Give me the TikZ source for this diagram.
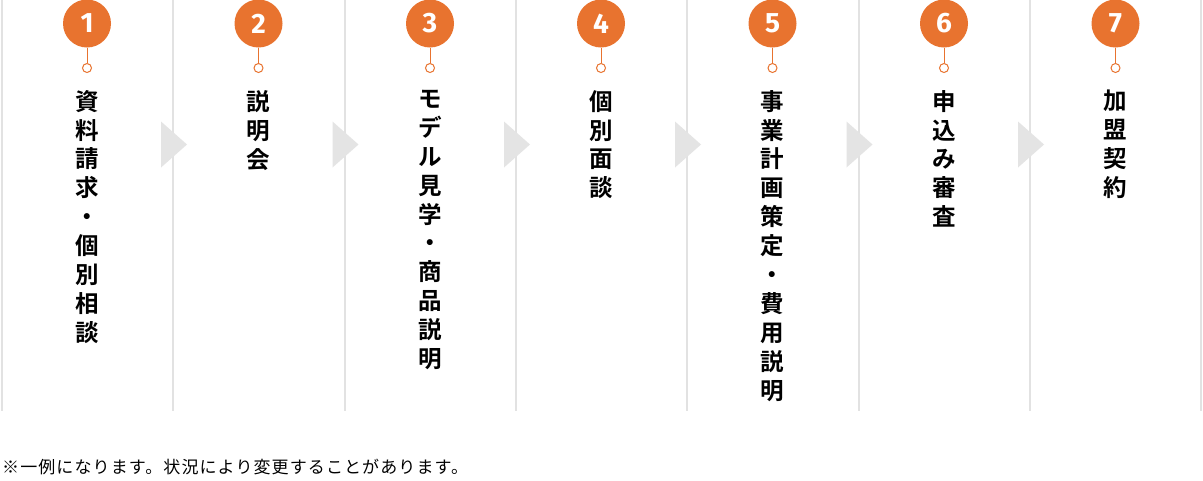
\documentclass[tikz,border=0pt]{standalone}
\usepackage{fontspec}
\newfontfamily\jp{Noto Sans CJK JP}[LetterSpace=6.5]
\newfontfamily\jpb{Noto Sans CJK JP Bold}
\newfontfamily\numf{Fira Sans}[BoldFont={Fira Sans Bold}]
\definecolor{orangec}{HTML}{E8732F}
\definecolor{sepc}{HTML}{E2E2E2}
\definecolor{tric}{HTML}{E4E4E4}
\begin{document}
\begin{tikzpicture}[x=1pt,y=-1pt,
  sepline/.style={draw=sepc,line width=2pt},
  numcirc/.style={circle,fill=orangec,minimum size=48pt,inner sep=0pt,text=white,font=\numf\bfseries\fontsize{28}{28}\selectfont},
  smallcirc/.style={circle,draw=orangec,fill=white,line width=1pt,minimum size=9pt,inner sep=0pt},
  stem/.style={draw=orangec,line width=1pt},
  title/.style={anchor=north,inner sep=0pt,align=center,font=\jpb\fontsize{23.5}{28.9}\selectfont},
  tri/.style={fill=tric,draw=none},
  note/.style={anchor=west,inner sep=0pt,font=\jp\fontsize{17}{20}\selectfont}
]
\path[use as bounding box,fill=white] (0,0) rectangle (1203,480);
% separators
\foreach \i/\x in {0/2,1/173,2/344.5,3/516,4/687,5/858.5,6/1030,7/1201}{
  \coordinate (st\i) at (\x,0);
  \coordinate (sb\i) at (\x,411);
  \draw[sepline] (st\i) -- (sb\i);
}
% triangles
\foreach \i/\x in {1/173,2/344.5,3/516,4/687,5/858.5,6/1030}{
  \coordinate (ta\i) at (\x-12,121.5);
  \coordinate (tb\i) at (\x+14,144.5);
  \coordinate (tc\i) at (\x-12,167.5);
  \fill[tri] (ta\i) -- (tb\i) -- (tc\i) -- cycle;
}
% circles
\foreach \i/\x in {1/87,2/258.5,3/430,4/601,5/772.5,6/944,7/1115.5}{
  \node[numcirc] (n\i) at (\x,23.5) {\i};
  \node[smallcirc] (s\i) at (\x,68) {};
  \draw[stem] (n\i.south) -- (s\i.north);
}
\node[title] (t1) at (87,90) {資\\料\\請\\求\\・\\個\\別\\相\\談};
\node[title] (t2) at (258.5,90) {説\\明\\会};
\node[title] (t3) at (430,90) {モ\\デ\\ル\\見\\学\\・\\商\\品\\説\\明};
\node[title] (t4) at (601,90) {個\\別\\面\\談};
\node[title] (t5) at (772.5,90) {事\\業\\計\\画\\策\\定\\・\\費\\用\\説\\明};
\node[title] (t6) at (944,90) {申\\込\\み\\審\\査};
\node[title] (t7) at (1115.5,90) {加\\盟\\契\\約};
\node[note] (note) at (2,467) {※一例になります。状況により変更することがあります。};
\end{tikzpicture}
\end{document}
